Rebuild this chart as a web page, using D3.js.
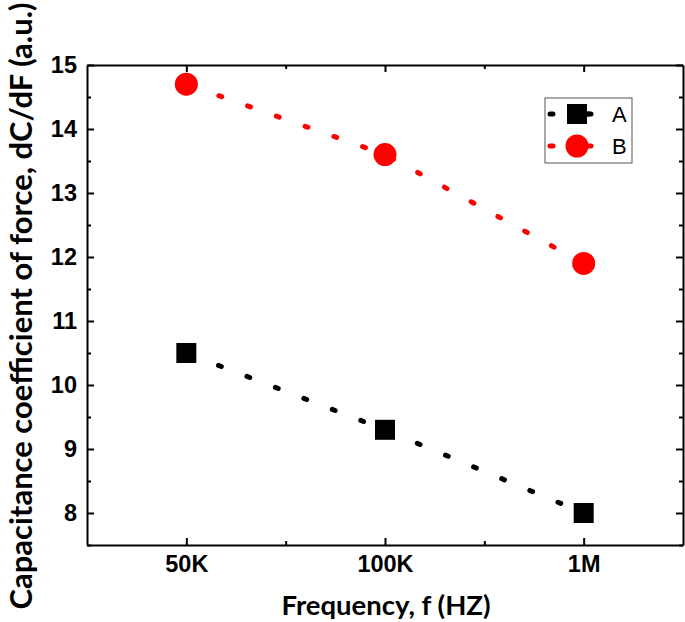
<!DOCTYPE html>
<html>
<head>
<meta charset="utf-8">
<script src="https://cdn.jsdelivr.net/npm/d3@7"></script>
<style>
  body { margin: 0; background: #fff; }
  svg { display: block; }
  .tick text { font-family: "Liberation Sans", Arial, sans-serif; font-weight: bold; font-size: 23.5px; fill: #000; }
</style>
</head>
<body>
<div id="chart"></div>
<script>
const width = 685;
const height = 622;

// data
const categories = ["50K", "100K", "1M"];
const seriesA = [10.5, 9.3, 8.0];
const seriesB = [14.7, 13.6, 11.9];
const yTicks = [8, 9, 10, 11, 12, 13, 14, 15];
const legendNames = ["A", "B"];

const margin = {left: 87, right: 2, top: 65, bottom: 77};

const svg = d3.select("#chart").append("svg")
    .attr("width", width)
    .attr("height", height);

const x = d3.scaleLinear()
    .domain([0.5, categories.length + 0.5])
    .range([margin.left, width - margin.right]);

const y = d3.scaleLinear()
    .domain([7.5, 15])
    .range([height - margin.bottom, margin.top]);

const xMajor = categories.map((c, i) => i + 1);
const xMinor = d3.range(1.5, categories.length, 1);
const yMinor = yTicks.map(v => v - 0.5);

function drawAxis(axisFn, scale, major, minor, transform, labels) {
    const g = svg.append("g").attr("transform", transform);
    // minor ticks first
    g.append("g").call(axisFn(scale).tickValues(minor).tickSizeInner(-4).tickSizeOuter(0).tickFormat(""))
        .call(s => s.select(".domain").remove());
    const ax = axisFn(scale).tickValues(major).tickSizeInner(-7).tickSizeOuter(0).tickPadding(10);
    if (labels) ax.tickFormat(labels); else ax.tickFormat("");
    g.append("g").call(ax);
    g.selectAll("line").attr("stroke", "#000").attr("stroke-width", 2);
    g.selectAll(".domain").attr("stroke", "#000").attr("stroke-width", 2);
    return g;
}

drawAxis(d3.axisBottom, x, xMajor, xMinor, `translate(0,${height - margin.bottom})`, i => categories[i - 1]);
drawAxis(d3.axisTop, x, xMajor, xMinor, `translate(0,${margin.top})`, null);
drawAxis(d3.axisLeft, y, yTicks, yMinor, `translate(${margin.left},0)`, d3.format("d"));
drawAxis(d3.axisRight, y, yTicks, yMinor, `translate(${width - margin.right},0)`, null);

// dotted connecting lines
const line = d3.line().x((d, i) => x(i + 1)).y(d => y(d));

function dotted(values, color) {
    svg.append("path")
        .datum(values)
        .attr("d", line)
        .attr("fill", "none")
        .attr("stroke", color)
        .attr("stroke-width", 5)
        .attr("stroke-linecap", "round")
        .attr("stroke-dasharray", "3 27.5")
        .attr("stroke-dashoffset", -4);
}
dotted(seriesA, "#000");
dotted(seriesB, "#ff0000");

svg.append("g").selectAll("rect")
    .data(seriesA)
    .join("rect")
    .attr("x", (d, i) => x(i + 1) - 10)
    .attr("y", d => y(d) - 10)
    .attr("width", 20)
    .attr("height", 20)
    .attr("fill", "#000");

svg.append("g").selectAll("circle")
    .data(seriesB)
    .join("circle")
    .attr("cx", (d, i) => x(i + 1))
    .attr("cy", d => y(d))
    .attr("r", 11.5)
    .attr("fill", "#ff0000");

// legend
const legend = svg.append("g").attr("transform", "translate(545,98)");
legend.append("rect")
    .attr("width", 87).attr("height", 65)
    .attr("fill", "#fff").attr("stroke", "#555").attr("stroke-width", 1);

legendNames.forEach((name, i) => {
    const cy = 16 + i * 32;
    const col = i === 0 ? "#000" : "#ff0000";
    legend.append("line")
        .attr("x1", 5).attr("x2", 48).attr("y1", cy).attr("y2", cy)
        .attr("stroke", col).attr("stroke-width", 5)
        .attr("stroke-linecap", "round")
        .attr("stroke-dasharray", "3 35");
    if (i === 0) {
        legend.append("rect").attr("x", 22).attr("y", cy - 10).attr("width", 20).attr("height", 20).attr("fill", col);
        legend.append("line").attr("x1", 42).attr("x2", 44).attr("y1", cy).attr("y2", cy)
            .attr("stroke", col).attr("stroke-width", 5).attr("stroke-linecap", "round");
    } else {
        legend.append("circle").attr("cx", 32).attr("cy", cy).attr("r", 11.5).attr("fill", col);
    }
    legend.append("text")
        .attr("x", 67).attr("y", cy + 8)
        .attr("font-family", "Liberation Sans, Arial, sans-serif")
        .attr("font-size", 22)
        .text(name);
});

// axis titles
svg.append("text")
    .attr("x", (x.range()[0] + x.range()[1]) / 2 + 1)
    .attr("y", 615)
    .attr("text-anchor", "middle")
    .attr("font-family", "Lato, sans-serif")
    .attr("font-weight", "bold")
    .attr("font-size", 27.5)
    .text("Frequency, f (HZ)");

svg.append("text")
    .attr("transform", "translate(32,306) rotate(-90)")
    .attr("text-anchor", "middle")
    .attr("font-family", "Lato, sans-serif")
    .attr("font-weight", "bold")
    .attr("font-size", 31)
    .text("Capacitance coefficient of force, dC/dF (a.u.)");
</script>
</body>
</html>
